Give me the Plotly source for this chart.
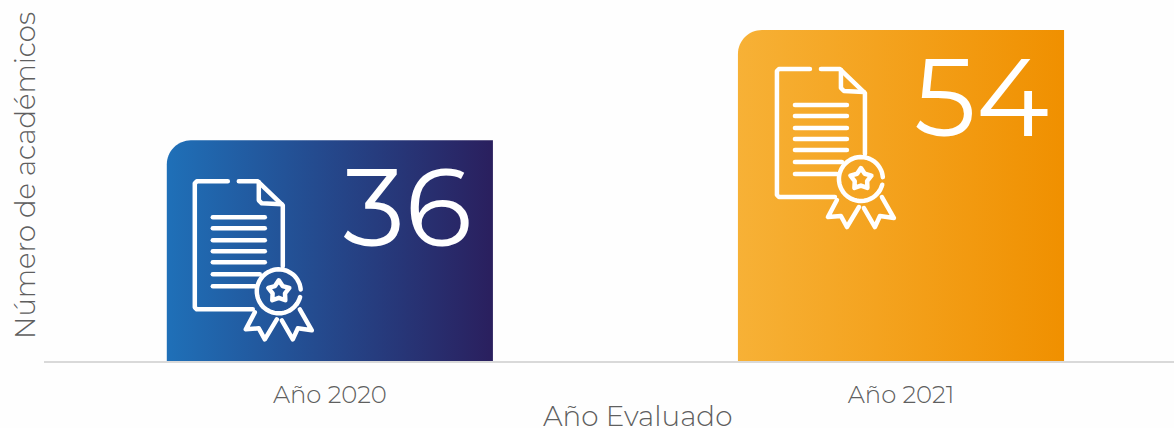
import math
import plotly.graph_objects as go

categories = ["Año 2020", "Año 2021"]
values = [36, 54]
grad_left = ["#1f70b8", "#f7b136"]
grad_right = ["#2a1f5e", "#f09000"]
icon_offset = [(28, 41), (39, 39)]  # px from the bar's top-left corner to the sheet's top-left
label_shift = [-19, -13]

W, H = 1174, 428
M_L, M_R, M_T, M_B = 44, 0, 0, 67
PLOT_W, PLOT_H = W - M_L - M_R, H - M_T - M_B
X_RANGE = [-0.5005, 1.478]
Y_RANGE = [0, 58.9]
BAR_W = 0.571
RADIUS_PX = 24
px_x = PLOT_W / (X_RANGE[1] - X_RANGE[0])
px_y = PLOT_H / (Y_RANGE[1] - Y_RANGE[0])
TEXT = "#5f5f5f"
FONT = "Montserrat, Lato, sans-serif"

PAGE_SETUP = """
document.body.style.margin = '0';
document.documentElement.style.overflow = 'hidden';
var s = document.createElement('style');
s.textContent = '.shapelayer path{stroke-linejoin:round;stroke-linecap:round}';
document.head.appendChild(s);
"""


def paper_x(page_x):
    return (page_x - M_L) / PLOT_W


def paper_y(page_y):
    return (M_T + PLOT_H - page_y) / PLOT_H


def bar_outline(i, v):
    x0, x1 = i - BAR_W / 2, i + BAR_W / 2
    rx, ry = RADIUS_PX / px_x, RADIUS_PX / px_y
    xs, ys = [x0], [0]
    for k in range(0, 17):
        a = math.pi - (math.pi / 2) * k / 16
        xs.append(x0 + rx + rx * math.cos(a))
        ys.append(v - ry + ry * math.sin(a))
    xs += [x1, x1, x0]
    ys += [v, 0, 0]
    return xs, ys


def poly(points, close=False):
    s = "M" + " L".join(f"{x:.1f},{-y:.1f}" for x, y in points)
    return s + (" Z" if close else "")


def arc(cx, cy, r, a0, a1, n=48):
    return [(cx + r * math.cos(math.radians(a0 + (a1 - a0) * k / n)),
             cy + r * math.sin(math.radians(a0 + (a1 - a0) * k / n))) for k in range(n + 1)]


def star(cx, cy, ro, ri):
    pts = []
    for k in range(10):
        a = math.radians(-90 + 36 * k)
        r = ro if k % 2 == 0 else ri
        pts.append((cx + r * math.cos(a), cy + r * math.sin(a)))
    return pts


def icon_paths():
    p = []
    p.append(poly([(33, 0), (2, 0), (0, 2), (0, 126), (2, 128), (58, 128)]))
    p.append(poly([(44, 0), (63, 0), (88, 24), (88, 85)]))
    p.append(poly([(64, 1), (64, 19), (67, 22), (87, 23)]))
    ys = [36, 47, 59, 70, 81, 93, 105]
    ends = [70, 70, 70, 70, 70, 65, 60]
    for y, e in zip(ys, ends):
        p.append(poly([(18, y), (e, y)]))
    c = (84, 110)
    p.append(poly(arc(c[0], c[1], 22, -5, -325)))
    p.append(poly(arc(c[0], c[1], 22, 15, 35, 8)))
    p.append(poly(star(c[0], c[1], 11, 6.5), close=True))
    p.append(poly([(60, 131), (51, 148), (64, 147), (70, 158), (82, 138)]))
    p.append(poly([(87, 139), (98, 158), (103, 147), (117, 149), (105, 128)]))
    return p


fig = go.Figure()
# data bars set the geometry; their gradient paint comes from the filled outlines laid over them
fig.add_trace(go.Bar(x=[0, 1], y=values, width=BAR_W,
                     marker=dict(color="rgba(0,0,0,0)", line_width=0),
                     showlegend=False, hoverinfo="skip"))
for i, v in enumerate(values):
    xs, ys = bar_outline(i, v)
    fig.add_trace(go.Scatter(x=xs, y=ys, mode="none", fill="toself", showlegend=False,
                             fillgradient=dict(type="horizontal",
                                               colorscale=[[0, grad_left[i]], [1, grad_right[i]]]),
                             name=categories[i], hoverinfo="name"))

shapes = []
annotations = []
for i, v in enumerate(values):
    left = i - BAR_W / 2
    ox, oy = icon_offset[i]
    for path in icon_paths():
        shapes.append(dict(type="path", layer="above", xref="x", yref="y", xsizemode="pixel", ysizemode="pixel",
                           xanchor=left + ox / px_x, yanchor=v - oy / px_y, path=path,
                           line=dict(color="white", width=4.5), fillcolor="rgba(0,0,0,0)"))
    annotations.append(dict(x=i + BAR_W / 2, y=v, xref="x", yref="y", text=str(v), showarrow=False,
                            xanchor="right", yanchor="top", xshift=label_shift[i], yshift=2,
                            font=dict(family=FONT, size=110, color="white", weight=400)))

annotations.append(dict(x=paper_x(637), y=paper_y(416), xref="paper", yref="paper",
                        text="Año Evaluado", showarrow=False, xanchor="center", yanchor="middle",
                        font=dict(family=FONT, size=27.8, color=TEXT, weight=300)))
annotations.append(dict(x=paper_x(25), y=paper_y(176), xref="paper", yref="paper",
                        text="Número de académicos", showarrow=False, textangle=-90, xanchor="center",
                        yanchor="middle", font=dict(family=FONT, size=27.5, color=TEXT, weight=300)))

fig.update_layout(
    width=W, height=H, margin=dict(l=M_L, r=M_R, t=M_T, b=M_B), barmode="overlay",
    paper_bgcolor="#fefefe", plot_bgcolor="#fefefe", shapes=shapes, annotations=annotations,
    xaxis=dict(range=X_RANGE, tickvals=[0, 1], ticktext=categories, showgrid=False, zeroline=False,
               showline=True, linecolor="#d9d9d9", linewidth=2, ticks="", ticklabelstandoff=11,
               tickfont=dict(family=FONT, size=24.3, color=TEXT, weight=300)),
    yaxis=dict(range=Y_RANGE, showticklabels=False, showgrid=False, zeroline=False, ticks=""),
)
fig.write_html("out.html", post_script=PAGE_SETUP, config=dict(displayModeBar=False))
